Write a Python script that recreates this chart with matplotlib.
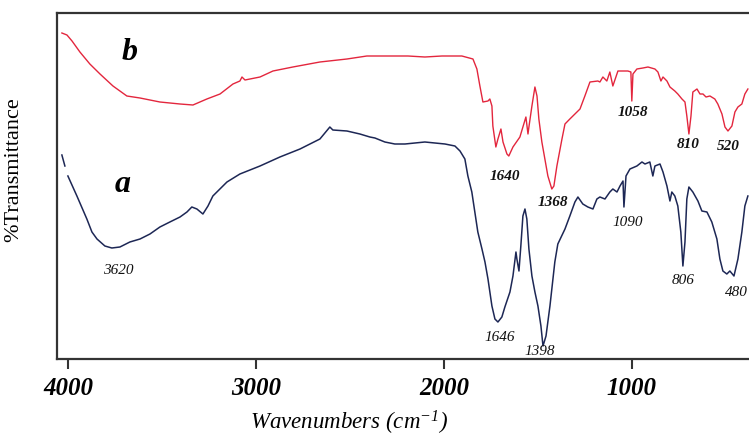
import numpy as np
import matplotlib
matplotlib.use('Agg')
import matplotlib.pyplot as plt

# FTIR spectra (wavenumber in cm-1, transmittance in arbitrary units)
b_wn = [4034, 4007, 3980, 3938, 3885, 3831, 3762, 3688, 3618, 3512, 3405, 3336, 3262, 3192,
        3123, 3086, 3075, 3059, 2979, 2910, 2804, 2660, 2516, 2410, 2367, 2191, 2101, 2010,
        1904, 1845, 1824, 1808, 1792, 1765, 1755, 1744, 1739, 1723, 1712, 1696, 1685, 1664,
        1654, 1632, 1595, 1579, 1563, 1552, 1547, 1531, 1515, 1504, 1494, 1478, 1462, 1446,
        1425, 1414, 1398, 1371, 1355, 1329, 1302, 1275, 1249, 1222, 1180, 1169, 1153, 1132,
        1116, 1100, 1073, 1046, 1020, 1004, 999, 993, 972, 940, 913, 876, 860, 844, 833, 812,
        796, 770, 754, 732, 716, 706, 695, 684, 674, 652, 636, 620, 604, 583, 557, 541, 519,
        503, 487, 466, 450, 434, 413, 397, 381]
b_tr = [326, 324, 318, 307, 295, 285, 273, 263, 261, 257, 255, 254, 260, 265,
        275, 278, 282, 279, 282, 288, 292, 297, 300, 303, 303, 303, 302, 303,
        303, 300, 290, 273, 257, 258, 260, 253, 233, 212, 220, 230, 217, 205,
        203, 212, 222, 232, 242, 225, 232, 253, 272, 263, 240, 217, 200, 183,
        170, 173, 193, 220, 235, 240, 245, 250, 263, 277, 278, 277, 282, 278,
        287, 273, 288, 288, 288, 287, 258, 285, 290, 291, 292, 290, 287, 278, 282, 278,
        272, 268, 265, 260, 257, 243, 225, 243, 267, 270, 265, 265, 262, 263, 260, 255, 245,
        232, 228, 233, 247, 252, 255, 265, 270]

a_wn = [4034, 4018, np.nan, 4002, 3954, 3901, 3874, 3847, 3805, 3768, 3725, 3672, 3618, 3565,
        3512, 3459, 3405, 3368, 3342, 3315, 3283, 3256, 3230, 3155, 3086, 2979, 2873, 2766,
        2660, 2607, 2591, 2516, 2447, 2394, 2367, 2314, 2261, 2207, 2101, 1994, 1941, 1914,
        1888, 1872, 1851, 1835, 1819, 1797, 1781, 1765, 1744, 1728, 1712, 1691, 1675, 1648,
        1632, 1616, 1611, 1600, 1590, 1579, 1568, 1558, 1547, 1531, 1515, 1499, 1483, 1472,
        1456, 1435, 1409, 1393, 1355, 1329, 1302, 1286, 1260, 1233, 1206, 1185, 1169, 1142,
        1116, 1100, 1078, 1062, 1046, 1041, 1030, 1009, 972, 945, 929, 903, 887, 876, 849,
        833, 812, 796, 786, 770, 754, 738, 727, 716, 706, 695, 674, 647, 626, 599, 573, 546,
        530, 514, 493, 477, 455, 434, 413, 397, 381]
a_tr = [204, 193, np.nan, 183, 163, 140, 127, 120, 113, 111, 112, 117, 120, 125,
        132, 137, 142, 147, 152, 150, 145, 153, 163, 177, 185, 193, 202, 210,
        220, 232, 229, 228, 225, 222, 221, 217, 215, 215, 217, 215, 213, 208,
        200, 183, 167, 147, 127, 110, 97, 80, 53, 40, 37, 42, 52, 67,
        83, 107, 100, 88, 113, 143, 150, 140, 110, 83, 67, 53, 33, 13,
        23, 53, 97, 115, 130, 143, 157, 162, 155, 152, 150, 160, 162, 160,
        167, 170, 167, 173, 178, 152, 183, 190, 193, 197, 195, 197, 183, 193, 195,
        187, 173, 158, 167, 163, 153, 127, 93, 117, 160, 172, 167, 158, 148, 147, 137, 120,
        100, 88, 85, 88, 83, 100, 127, 153, 163]

# peak annotations: (text, wavenumber, transmittance)
b_peaks = [('1640', 1675, 184), ('1368', 1419, 157), ('1058', 993, 247),
           ('810', 700, 216), ('520', 487, 213)]
a_peaks = [('3620', 3736, 90), ('1646', 1701, 22), ('1398', 1488, 8),
           ('1090', 1020, 137), ('806', 727, 80), ('480', 440, 68)]
xticks = [4000, 3000, 2000, 1000]

plt.rcParams['font.family'] = ['Liberation Serif', 'DejaVu Serif']
plt.rcParams['mathtext.fontset'] = 'custom'
plt.rcParams['mathtext.rm'] = 'Liberation Serif:italic'
plt.rcParams['mathtext.it'] = 'Liberation Serif:italic'

fig = plt.figure(figsize=(7.49, 4.39), dpi=100)
ax = fig.add_axes([57 / 749, 79 / 439, 692 / 749, 346 / 439])

ax.plot(b_wn, b_tr, color='#e3263d', lw=1.0)
ax.plot(a_wn, a_tr, color='#1d2755', lw=1.1)

ax.set_xlim(4060, 375)
ax.set_ylim(0, 346)

for txt, w, t in b_peaks:
    ax.text(w, t, txt, fontsize=11, style='italic', fontweight='bold',
            ha='center', va='center', color='#111111')
for txt, w, t in a_peaks:
    ax.text(w, t, txt, fontsize=11, style='italic',
            ha='center', va='center', color='#111111')

ax.text(3672, 308, 'b', fontsize=23, style='italic', fontweight='bold', ha='center', va='center')
ax.text(3709, 176, 'a', fontsize=23, style='italic', fontweight='bold', ha='center', va='center')

ax.set_xticks(xticks)
ax.set_xticklabels([str(v) for v in xticks], fontsize=18, style='italic', fontweight='bold')
ax.set_yticks([])
ax.tick_params(axis='x', direction='out', length=7, width=1.5, pad=5, color='#333333')

for side in ['left', 'bottom', 'top']:
    ax.spines[side].set_linewidth(1.6)
    ax.spines[side].set_color('#333333')
ax.spines['right'].set_visible(False)

ax.set_xlabel('Wavenumbers (cm$^{-1}$)', fontsize=16.5, style='italic')
ax.xaxis.set_label_coords(0.422, -0.142)
ax.set_ylabel('%Transmittance', fontsize=16)
ax.yaxis.set_label_coords(-0.049, 0.55)

fig.savefig('out.png', dpi=100)
